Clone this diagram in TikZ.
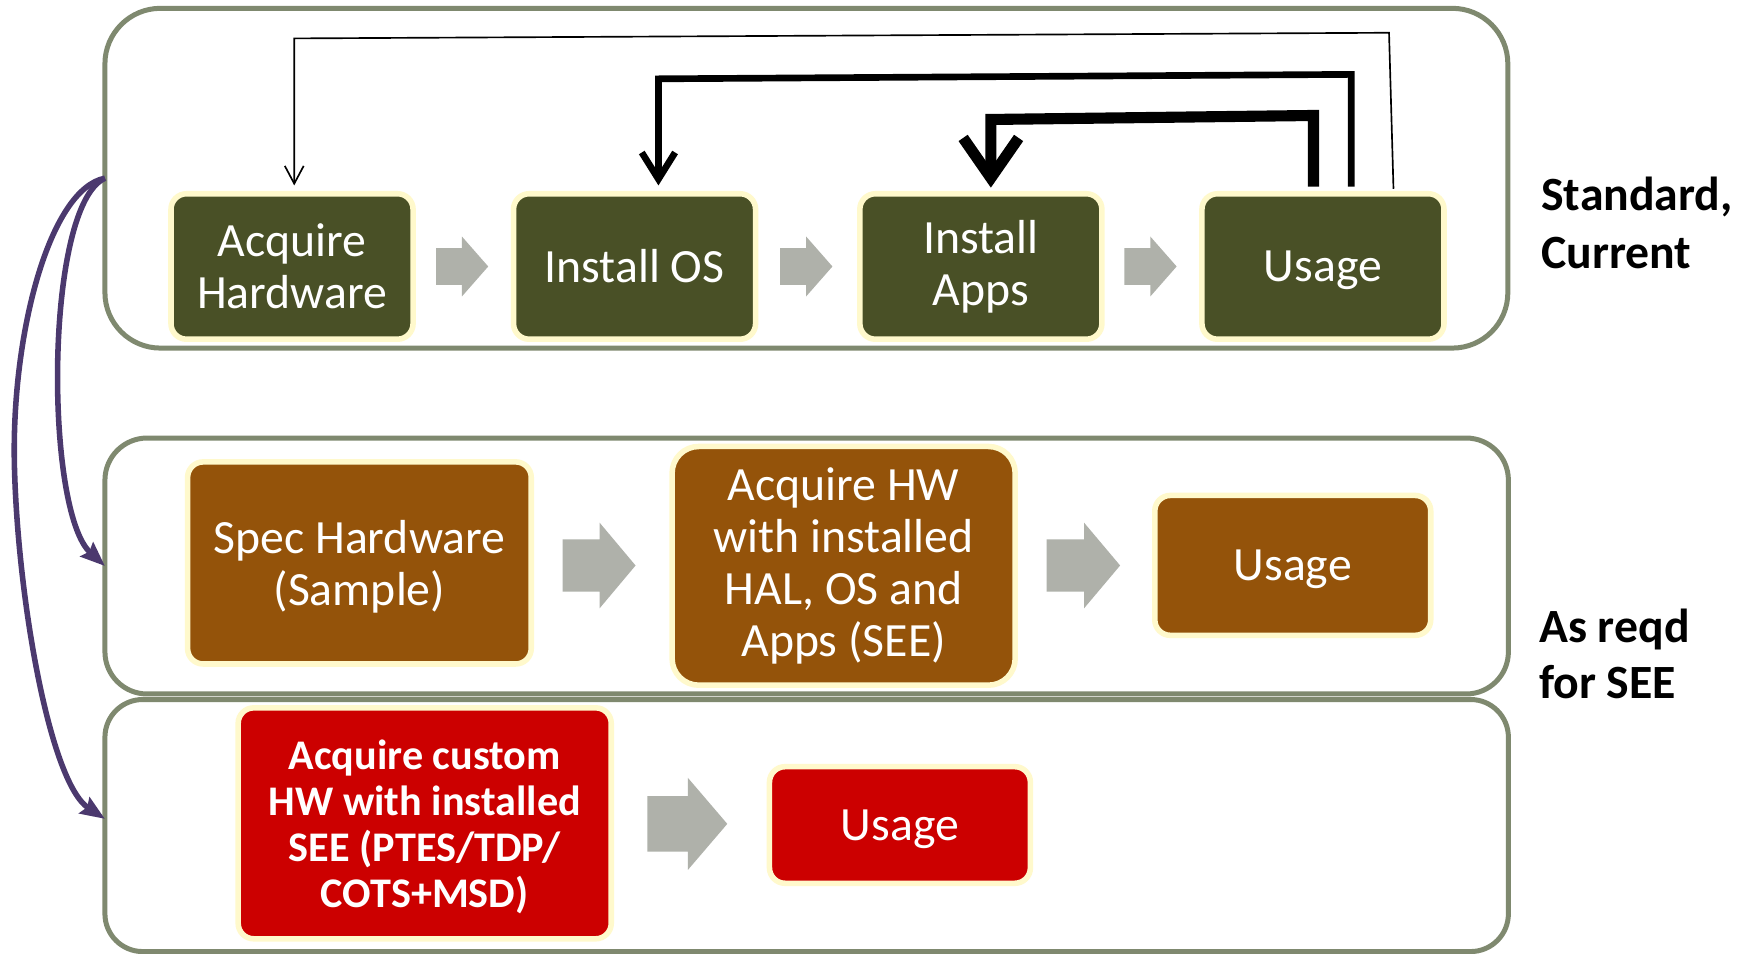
\documentclass[tikz,border=0pt]{standalone}
\usepackage{fontspec}
\setmainfont{Carlito}
\usetikzlibrary{arrows.meta,calc}
\definecolor{olivebox}{RGB}{73,80,38}
\definecolor{brownbox}{RGB}{148,83,10}
\definecolor{redbox}{RGB}{204,0,0}
\definecolor{glow}{RGB}{255,249,204}
\definecolor{panelborder}{RGB}{127,137,111}
\definecolor{arrowgray}{RGB}{175,177,170}
\definecolor{flowpurple}{RGB}{75,57,110}
\newcommand\blockarrow[6]{\fill[arrowgray] (#1,#4-#5) -- (#2,#4-#5) -- (#2,#4-#6) -- (#3,#4) -- (#2,#4+#6) -- (#2,#4+#5) -- (#1,#4+#5) -- cycle;}
\begin{document}
\begin{tikzpicture}[x=1pt,y=-1pt,
  panel/.style={draw=panelborder, line width=4.5pt, fill=white, inner sep=0pt, outer sep=0pt},
  stepbox/.style={draw=glow, line width=5pt, rounded corners=14pt, text=white, align=center, inner sep=0pt},
  topbox/.style={stepbox, fill=olivebox, minimum width=218pt, minimum height=131pt, font=\fontsize{43}{47}\selectfont},
  midbox/.style={stepbox, fill=brownbox, font=\fontsize{43}{47}\selectfont},
  botbox/.style={stepbox, fill=redbox},
  sidelabel/.style={anchor=west, align=left, inner sep=0pt, font=\bfseries\fontsize{43}{52}\selectfont},
  thinfb/.style={line width=1.5pt, -{Straight Barb[length=16pt,width=17pt]}},
  medfb/.style={line width=6pt, -{Straight Barb[length=24pt,width=30pt]}},
  thickfb/.style={line width=10pt, -{Straight Barb[length=36pt,width=50pt]}},
  flow/.style={draw=flowpurple, line width=5pt, -{Stealth[length=22pt,width=17pt,inset=3pt]}}
]
\useasboundingbox (0,0) rectangle (1568,859);

% panels
\node[panel, rounded corners=50pt, minimum width=1263.5pt, minimum height=306pt] (P1) at (726.25,160.5) {};
\node[panel, rounded corners=38pt, minimum width=1264pt, minimum height=230.5pt] (P2) at (726.5,509.75) {};
\node[panel, rounded corners=34pt, minimum width=1264pt, minimum height=227pt] (P3) at (726.5,743.5) {};

% top row
\node[topbox] (a1) at (263,240) {Acquire\\Hardware};
\node[topbox] (o1) at (571.5,240) {Install OS};
\node[topbox] (ap) at (883.4,240) {Install\\Apps};
\node[topbox, text depth=0pt] (u1) at (1191.5,240) {Usage};

\blockarrow{392.7}{416}{439.7}{240}{16.6}{27}
\blockarrow{702.7}{726}{749.7}{240}{16.6}{27}
\blockarrow{1012.7}{1036}{1059.7}{240}{16.6}{27}

% feedback arrows
\draw[thinfb] ([xshift=63.5pt,yshift=2pt]u1.north) -- (1251,29.5) -- (265,34.6) -- ([xshift=2pt,yshift=5pt]a1.north);
\draw[medfb] ([xshift=25.5pt,yshift=4pt]u1.north) -- (1217,67) -- (593,71) -- ([xshift=21.5pt,yshift=5pt]o1.north);
\draw[thickfb] ([xshift=-8.5pt,yshift=4pt]u1.north) -- (1183,104) -- (892.4,107.6) -- ([xshift=9pt,yshift=3pt]ap.north);

% middle row
\node[midbox, text depth=0pt, minimum width=309.5pt, minimum height=182pt] (sp) at (323.7,507) {Spec Hardware\\(Sample)};
\node[midbox, rounded corners=24pt, minimum width=309pt, minimum height=215pt] (ah) at (759.8,509.6) {Acquire HW\\with installed\\HAL, OS and\\Apps (SEE)};
\node[midbox, text depth=0pt, minimum width=248.5pt, minimum height=126pt] (mu) at (1164.3,509.2) {Usage};
\blockarrow{506.7}{540}{572.4}{509.3}{23.5}{38.6}
\blockarrow{942.6}{976.3}{1008.8}{509.3}{23.5}{38.6}

% bottom row
\node[botbox, text depth=0pt, minimum width=336pt, minimum height=208pt, font=\bfseries\fontsize{38}{41.5}\selectfont] (cu) at (382.5,741.5) {Acquire custom\\HW with installed\\SEE (PTES/TDP/\\COTS+MSD)};
\node[botbox, text depth=0pt, minimum width=235pt, minimum height=105pt, font=\fontsize{43}{47}\selectfont] (bu) at (810.5,743) {Usage};
\blockarrow{583}{619.5}{655}{742}{25}{41.5}

% purple curved arrows
\draw[flow] (P1.west) .. controls (40,185) and (40,460) .. (P2.west);
\draw[flow] (P1.west) .. controls (45,170) and (10,300) .. (13,420) .. controls (16,540) and (45,705) .. ([yshift=6pt]P3.west);

% side labels
\node[sidelabel] (l1) at (1388,201) {Standard,\\Current};
\node[sidelabel, font=\bfseries\fontsize{43}{51}\selectfont] (l2) at (1386,589) {As reqd\\for SEE};
\end{tikzpicture}
\end{document}
